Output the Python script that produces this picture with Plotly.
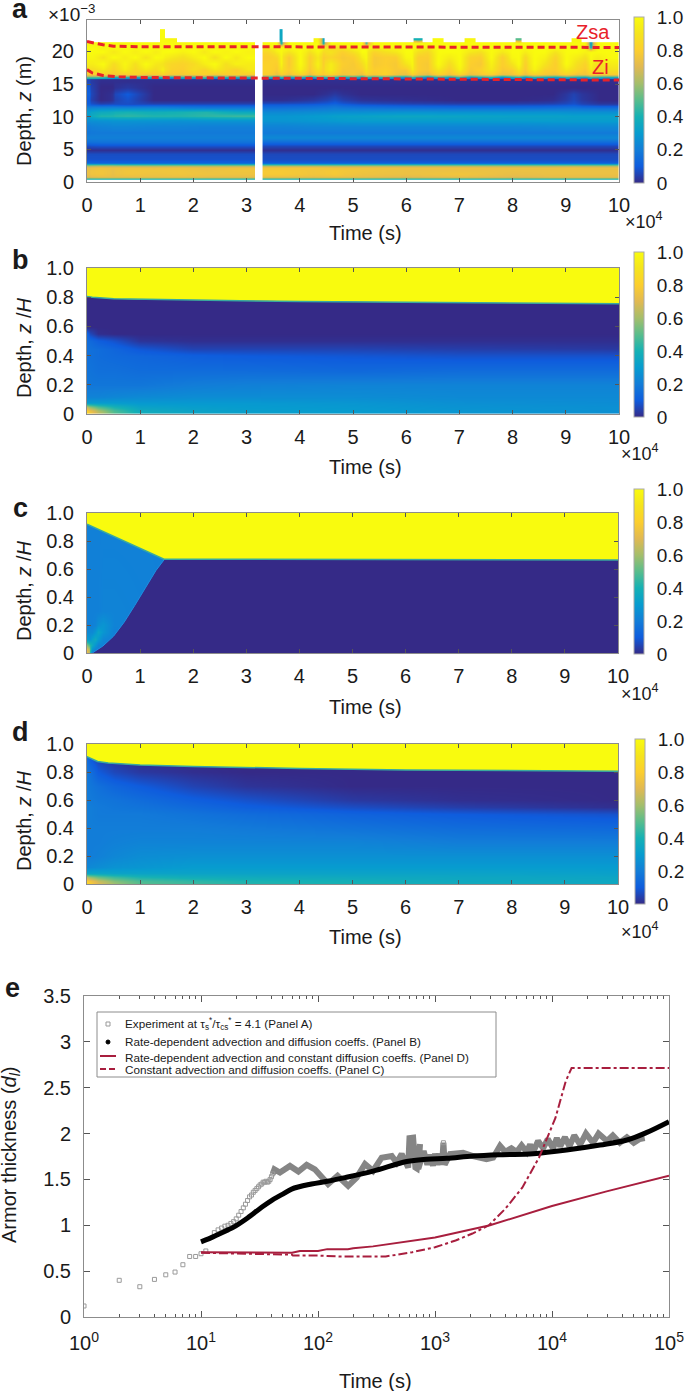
import plotly.graph_objects as go

W, H = 685, 1391
n = None

parula = [[0, 'rgb(53,42,135)'], [0.1, 'rgb(15,92,221)'], [0.2, 'rgb(18,125,216)'],
          [0.3, 'rgb(7,156,207)'], [0.4, 'rgb(21,177,180)'], [0.5, 'rgb(89,189,140)'],
          [0.6, 'rgb(165,190,107)'], [0.7, 'rgb(225,185,82)'], [0.8, 'rgb(252,206,46)'],
          [0.9, 'rgb(245,228,29)'], [1, 'rgb(249,251,14)']]

# panel a, lower layers (edges in time and depth)
a_low_depth = [0.35, 0.7, 1.0, 1.5, 2.0, 2.5, 2.8, 3.1, 4.0, 4.6, 5.2, 5.8, 6.5, 7.2, 8.0, 9.0, 9.8, 10.4, 11.0, 11.6,
               12.2, 13.0, 14.0, 15.0, 15.8]
a_low_t_left = [0, 0.08, 0.44, 0.52, 1, 1.5, 2, 2.5, 3.15]
a_low_left = [
    [.42, .42, .42, .42, .42, .42, .42, .42],
    [.70, .72, .72, .72, .73, .73, .72, .72],
    [.74, .76, .73, .76, .75, .76, .75, .75],
    [.74, .76, .73, .76, .76, .76, .74, .76],
    [.72, .74, .73, .74, .73, .74, .73, .74],
    [.50, .52, .52, .50, .50, .50, .50, .50],
    [.15, .14, .14, .14, .14, .14, .14, .14],
    [.08, .08, .08, .08, .08, .08, .08, .08],
    [.07, .07, .07, .07, .07, .07, .07, .07],
    [.01, .01, .01, .01, .01, .01, .01, .01],
    [.07, .08, .08, .08, .08, .08, .08, .08],
    [.16, .17, .17, .17, .17, .17, .17, .17],
    [.21, .21, .21, .21, .21, .21, .21, .21],
    [.18, .19, .19, .19, .19, .19, .19, .19],
    [.20, .22, .23, .23, .22, .22, .21, .21],
    [.26, .27, .28, .28, .28, .27, .28, .28],
    [.30, .42, .42, .44, .42, .42, .44, .46],
    [.30, .36, .38, .40, .38, .40, .42, .36],
    [.22, .24, .24, .24, .24, .22, .20, .20],
    [.12, .07, .08, .07, .07, .07, .07, .07],
    [.10, 0, .02, .08, 0, 0, 0, 0],
    [.12, 0, .02, .10, 0, 0, 0, 0],
    [.10, 0, 0, .03, 0, 0, 0, 0],
    [.06, .01, .01, .01, .01, .01, .01, .01],
]
a_low_t_right = [3.3, 4, 4.5, 4.8, 5.5, 6.5, 7.5, 8.5, 9, 9.3, 10]
a_low_right = [
    [.42, .42, .42, .42, .42, .42, .42, .42, .42, .42],
    [.73, .72, .73, .72, .70, .72, .70, .72, .72, .72],
    [.78, .76, .78, .75, .74, .76, .73, .74, .74, .74],
    [.78, .76, .78, .76, .74, .74, .74, .74, .74, .74],
    [.76, .76, .74, .74, .74, .74, .73, .73, .74, .73],
    [.50, .50, .50, .50, .50, .50, .50, .50, .50, .50],
    [.12, .12, .12, .12, .12, .12, .12, .12, .12, .12],
    [.07, .07, .07, .07, .07, .07, .07, .07, .07, .07],
    [.06, .06, .06, .06, .06, .06, .06, .06, .06, .06],
    [.01, .01, .01, .01, .01, .01, .01, .01, .01, .01],
    [.06, .06, .06, .06, .06, .06, .06, .06, .06, .06],
    [.15, .15, .15, .15, .15, .15, .15, .15, .15, .15],
    [.24, .24, .24, .24, .24, .24, .24, .24, .24, .24],
    [.19, .19, .19, .19, .19, .19, .19, .19, .19, .19],
    [.22, .23, .23, .23, .23, .23, .23, .24, .24, .24],
    [.28, .29, .30, .31, .31, .31, .31, .31, .31, .31],
    [.28, .30, .32, .33, .35, .34, .33, .33, .32, .32],
    [.24, .25, .26, .26, .27, .27, .27, .27, .26, .26],
    [.17, .18, .20, .18, .17, .16, .16, .17, .18, .16],
    [.10, .11, .14, .09, .07, .06, .06, .07, .09, .04],
    [.01, .03, .07, .02, .01, 0, 0, .01, .06, 0],
    [0, 0, .03, 0, 0, 0, 0, 0, .05, 0],
    [0, 0, 0, 0, 0, 0, 0, 0, 0, 0],
    [.01, .01, .01, .01, .01, .01, .01, .01, .01, .01],
]

# panel a, noisy sand layer at the top
a_top_depth = [15.7, 16.2, 16.8, 17.6, 18.6, 19.6, 20.4, 21.0, 21.6, 22.2, 23.4]
a_top_t_left = [0, .2, .4, .6, .8, 1, 1.2, 1.38, 1.46, 1.7, 1.9, 2.1, 2.3, 2.5, 2.7, 2.9, 3.15]
a_top_left = [
    [.40, .35, .25, .30, .20, .30, .25, .35, .20, .30, .25, .40, .20, .30, .25, .30],
    [.80, .82, .78, .80, .84, .78, .80, .82, .78, .78, .80, .82, .78, .80, .82, .80],
    [.86, .92, .82, .94, .84, .92, .86, .96, .82, .80, .88, .82, .92, .86, .80, .92],
    [.94, 1.0, .86, .98, .88, 1.0, .92, .90, .84, .82, .86, .94, 1.0, .88, .96, .94],
    [.98, .90, 1.0, .94, 1.0, .90, 1.0, .98, .92, .88, .94, 1.0, .88, 1.0, .92, 1.0],
    [1.0, 1.0, .92, 1.0, .94, 1.0, .94, 1.0, 1.0, .96, 1.0, .92, 1.0, .96, 1.0, .96],
    [1.0, .96, 1.0, .98, 1.0, .98, 1.0, .98, 1.0, 1.0, .98, 1.0, .96, 1.0, .98, 1.0],
    [.96, 1.0, 1.0, .98, 1.0, 1.0, .98, 1.0, 1.0, .98, 1.0, 1.0, 1.0, .98, 1.0, 1.0],
    [n, n, n, n, n, n, n, 1.0, .98, n, n, n, n, n, n, n],
    [n, n, n, n, n, n, n, 1.0, n, n, n, n, n, n, n, n],
]
a_top_t_right = [3.3, 3.5, 3.62, 3.68, 3.9, 4.1, 4.25, 4.4, 4.46, 4.7, 4.9, 5.1, 5.22, 5.28, 5.5, 5.7, 5.9, 6.08, 6.14,
                 6.3, 6.5, 6.7, 6.9, 7.1, 7.3, 7.5, 7.7, 7.9, 8.06, 8.16, 8.3, 8.5, 8.7, 8.9, 9.1, 9.3, 9.42, 9.5, 9.7,
                 10]
a_top_right = [
    [.30, .15, .35, .20, .30, .10, .30, .25, .35, .20, .30, .15, .35, .25, .30, .20, .15, .35, .25, .10,
     .30, .20, .35, .15, .25, .30, .10, .25, .30, .15, .30, .25, .20, .30, .25, .20, .35, .30, .25],
    [.80, .74, .82, .76, .84, .74, .82, .78, .84, .76, .78, .74, .84, .78, .82, .76, .74, .84, .76, .72,
     .82, .76, .84, .74, .78, .82, .74, .76, .82, .74, .82, .78, .76, .82, .76, .76, .82, .78, .80],
    [.82, .78, .92, .80, .96, .78, .90, .80, .94, .78, .78, .80, .92, .80, .82, .78, .78, .96, .80, .78,
     .92, .80, .96, .78, .82, .92, .78, .80, .92, .78, .96, .82, .80, .92, .84, .78, .94, .84, .88],
    [.82, .80, 1.0, .78, 1.0, .80, .96, .78, .94, .80, .78, .86, .96, .78, .80, .78, .90, 1.0, .80, .78,
     1.0, .86, 1.0, .80, .78, .96, .80, .90, 1.0, .80, 1.0, .90, .80, 1.0, .88, .82, .98, .88, .94],
    [.80, .84, 1.0, .78, 1.0, .80, .92, .78, .84, .78, .80, .94, 1.0, .78, .80, .80, .98, 1.0, .80, .80,
     1.0, .94, 1.0, .82, .80, 1.0, .80, .98, 1.0, .84, 1.0, .96, .82, 1.0, .94, .88, 1.0, .94, 1.0],
    [.84, .94, 1.0, .90, 1.0, .88, .98, .84, .90, .80, .88, 1.0, 1.0, .82, .88, .92, 1.0, 1.0, .88, .84,
     1.0, 1.0, 1.0, .92, .88, 1.0, .92, 1.0, 1.0, .94, 1.0, 1.0, .90, 1.0, 1.0, .96, 1.0, 1.0, 1.0],
    [.94, 1.0, 1.0, 1.0, 1.0, .98, 1.0, .98, .84, .92, 1.0, 1.0, 1.0, .96, 1.0, .98, 1.0, 1.0, .98, .94,
     1.0, 1.0, 1.0, .98, 1.0, 1.0, .98, 1.0, 1.0, 1.0, 1.0, 1.0, 1.0, 1.0, 1.0, 1.0, .30, .98, 1.0],
    [1.0, 1.0, .30, 1.0, 1.0, 1.0, 1.0, .30, 1.0, 1.0, 1.0, 1.0, .40, 1.0, 1.0, 1.0, 1.0, 1.0, 1.0, 1.0,
     1.0, 1.0, 1.0, 1.0, 1.0, 1.0, 1.0, 1.0, 1.0, 1.0, 1.0, 1.0, 1.0, 1.0, 1.0, 1.0, .25, 1.0, 1.0],
    [n, n, .35, n, n, n, .98, .30, n, n, n, n, n, n, n, n, n, n, .40, n,
     1.0, n, n, .98, n, n, n, n, .50, n, n, n, n, n, .98, n, n, n, n],
    [n, n, .35, n, n, n, n, n, n, n, n, n, n, n, n, n, n, n, n, n,
     n, n, n, n, n, n, n, n, n, n, n, n, n, n, n, n, n, n, n],
]
zsa_t = [0, 0.1, 0.3, 0.5, 1, 3, 5, 7.5, 10]
zsa_depth = [21.5, 21.3, 21.0, 20.8, 20.7, 20.7, 20.65, 20.6, 20.6]
zi_t = [0, 0.1, 0.3, 0.6, 1, 3, 6, 8, 10]
zi_depth = [17.2, 16.7, 16.3, 16.1, 16.0, 15.9, 15.8, 15.7, 15.6]

# panel b
b_t = [0, 0.05, 0.2, 0.5, 1, 2, 3, 5, 7, 10]
b_z = [0, .02, .05, .08, .12, .2, .3, .4, .45, .5, .55, .6, .8]
b_conc = [
    [.85, .78, .66, .50, .38, .34, .32, .30, .28, .26],
    [.80, .74, .62, .48, .37, .33, .31, .30, .28, .26],
    [.62, .56, .48, .40, .33, .31, .30, .29, .27, .26],
    [.30, .30, .30, .30, .29, .29, .29, .28, .26, .25],
    [.22, .22, .22, .23, .24, .25, .25, .25, .24, .24],
    [.18, .18, .18, .18, .18, .20, .21, .22, .22, .22],
    [.17, .17, .16, .16, .15, .15, .15, .14, .15, .15],
    [.16, .16, .15, .14, .13, .11, .10, .09, .08, .08],
    [.16, .16, .15, .13, .09, .05, .05, .05, .04, .03],
    [.15, .14, .11, .08, .02, .01, .01, .01, .01, .01],
    [.13, .06, .01, 0, 0, 0, 0, 0, 0, 0],
    [0, 0, 0, 0, 0, 0, 0, 0, 0, 0],
    [0, 0, 0, 0, 0, 0, 0, 0, 0, 0],
]
b_iface_t = [0, 0.1, 0.5, 1, 2, 4, 6, 8, 10]
b_iface = [.805, .80, .79, .785, .78, .77, .765, .76, .755]

# panel c
c_t = [0, .03, .06, .1, .15, .2, .3, .5, 1.5, 10]
c_z = [0, .03, .06, .1, .15, .2, .3, 1]
c_conc = [
    [.72, .65, .40, .22, .22, .22, .22, .21, .21, .21],
    [.70, .62, .45, .28, .22, .22, .22, .21, .21, .21],
    [.55, .48, .42, .36, .28, .22, .22, .21, .21, .21],
    [.30, .28, .28, .32, .36, .30, .23, .21, .21, .21],
    [.24, .24, .24, .24, .28, .34, .28, .21, .21, .21],
    [.21, .21, .21, .21, .22, .26, .28, .22, .21, .21],
    [.21, .21, .21, .21, .21, .21, .22, .22, .21, .21],
    [.21, .21, .21, .21, .21, .21, .21, .21, .21, .21],
]
c_front_t = [0.1, 0.3, 0.5, 0.7, 0.9, 1.1, 1.3, 1.45, 10]
c_front = [0, .05, .12, .22, .34, .47, .59, .665, .665]
c_iface_t = [0, 1.45, 10]
c_iface = [.92, .67, .665]

# panel d
d_t = [0, .05, .2, .5, 1, 2, 3, 5, 7, 10]
d_z = [0, .02, .05, .08, .12, .2, .3, .4, .5, .55, .6, .7, .8, .9]
d_conc = [
    [.85, .80, .70, .60, .50, .46, .42, .40, .37, .35],
    [.80, .76, .66, .56, .48, .44, .41, .39, .36, .35],
    [.62, .58, .52, .46, .41, .38, .37, .36, .35, .34],
    [.34, .34, .34, .33, .33, .33, .33, .33, .33, .32],
    [.23, .24, .25, .27, .28, .30, .30, .30, .30, .30],
    [.20, .20, .21, .23, .25, .26, .26, .26, .26, .26],
    [.20, .20, .20, .21, .22, .22, .22, .22, .20, .20],
    [.20, .20, .20, .20, .20, .20, .19, .17, .15, .14],
    [.20, .20, .19, .19, .19, .17, .15, .12, .10, .08],
    [.20, .20, .19, .18, .17, .14, .11, .07, .04, .01],
    [.20, .19, .18, .17, .15, .11, .08, .03, .01, 0],
    [.19, .18, .16, .13, .10, .05, .02, 0, 0, 0],
    [.18, .16, .10, .06, .03, .01, 0, 0, 0, 0],
    [.15, .10, .05, .02, 0, 0, 0, 0, 0, 0],
]
d_iface_t = [0, .05, .1, .2, .4, .7, 1, 2, 3, 4, 6, 8, 10]
d_iface = [.91, .90, .89, .875, .865, .855, .85, .84, .83, .825, .815, .81, .805]

# panel e
exp_t = [1, 2, 3, 4, 5, 6, 7, 8, 9, 10, 11, 13, 14, 15, 16, 17, 18, 19, 20, 21, 22, 23, 24, 25, 26, 27, 28, 29, 30,
         31, 32, 33, 34, 35, 36, 37, 38, 39, 40, 41, 1180]
exp_y = [.12, .40, .33, .41, .46, .49, .57, .66, .66, .69, .72, .92, .95, .97, .99, 1.0, 1.02, 1.04, 1.07, 1.11, 1.15,
         1.19, 1.23, 1.27, 1.31, 1.33, 1.36, 1.38, 1.40, 1.42, 1.44, 1.45, 1.47, 1.47, 1.48, 1.47, 1.48, 1.50, 1.53,
         1.56, 1.90]
band_t = [41, 42.4, 47.3, 52, 57.6, 68, 80, 94, 111, 122, 147, 170, 181, 214, 252, 295, 350, 427, 470, 519, 590, 605,
          620, 650, 680, 700, 745, 720, 800, 860, 900, 960, 1000, 1050, 1100, 1150, 1180, 1210, 1343, 1738, 2113, 2755,
          3140, 3597, 4000, 4500, 5000, 5500, 6080, 6500, 6900, 7600, 8400, 9200, 10200, 11000, 11750, 12900, 14100,
          15500, 17400, 19500, 22400, 25000, 29500, 33100, 38000, 43700, 50000, 56200, 62000]
band_y = [1.56, 1.61, 1.575, 1.61, 1.647, 1.586, 1.658, 1.61, 1.50, 1.45, 1.54, 1.466, 1.43, 1.52, 1.668, 1.593, 1.737,
          1.755, 1.683, 1.777, 1.63, 1.95, 1.955, 1.955, 1.63, 1.62, 1.885, 1.615, 1.81, 1.66, 1.77, 1.65, 1.78, 1.66,
          1.78, 1.66, 1.90, 1.66, 1.777, 1.79, 1.755, 1.72, 1.737, 1.867, 1.80, 1.84, 1.80, 1.87, 1.80, 1.88, 1.80,
          1.92, 1.84, 1.94, 1.84, 1.95, 1.86, 1.96, 1.86, 1.98, 1.88, 2.00, 1.90, 2.00, 1.92, 1.98, 1.90, 1.96, 1.90,
          1.94, 1.95]
rate_t = [10, 12, 14, 17, 19, 25, 33, 40, 50, 59.5, 88, 120, 170, 295, 572, 850, 1260, 2113, 3800, 6900, 13300, 25700,
          43700, 64000, 100000]
rate_y = [.82, .86, .90, .95, .98, 1.08, 1.197, 1.27, 1.34, 1.395, 1.45, 1.48, 1.52, 1.59, 1.695, 1.72, 1.73, 1.755,
          1.77, 1.78, 1.82, 1.875, 1.93, 2.01, 2.13]
diff_t = [10, 20, 50, 60, 70, 100, 120, 180, 200, 295, 1000, 2950, 10000, 29300, 100000]
diff_y = [.705, .70, .70, .70, .72, .72, .74, .74, .75, .77, .867, 1.0, 1.21, 1.37, 1.54]
const_t = [10, 30, 60, 61, 100, 151, 290, 379, 640, 1000, 1500, 2090, 2890, 3990, 5570, 7740, 10700, 13100, 14700,
           100000]
const_y = [.70, .69, .68, .67, .67, .66, .66, .66, .707, .76, .834, .91, 1.0, 1.18, 1.41, 1.737, 2.17, 2.57, 2.715,
           2.715]

font = 'Liberation Sans'
grey = '#8c8c8c'
crimson = '#a81e3e'
yellow = 'rgb(249,251,14)'
teal = '#39a9a0'
ink = '#1a1a1a'

legend_names = ['Experiment at τ<sub>s</sub><sup>*</sup>/τ<sub>cs</sub><sup>*</sup> = 4.1 (Panel A)',
                'Rate-dependent advection and diffusion coeffs. (Panel B)',
                'Rate-dependent advection and constant diffusion coeffs. (Panel D)',
                'Constant advection and diffusion coeffs. (Panel C)']


def dom_x(left, right):
    return [left / W, right / W]


def dom_y(top, bottom):
    return [1 - bottom / H, 1 - top / H]


def axis_style(**kw):
    base = dict(showline=True, mirror='ticks', linecolor=grey, linewidth=1, ticks='inside', ticklen=4,
                tickcolor='#555555', showgrid=False, zeroline=False, tickfont=dict(family=font, size=20, color=ink))
    base.update(kw)
    return base


fig = go.Figure()
panels = [
    # name, plot top, plot bottom, colorbar top, colorbar bottom, colorbar left
    ('', 20, 182, 17, 183, 633.5),
    ('2', 268, 414, 252, 417, 633.5),
    ('3', 513, 653, 489, 654, 634),
    ('4', 744, 884, 739, 904, 635),
]
layout = dict(width=W, height=H, margin=dict(l=0, r=0, t=0, b=0, autoexpand=False), paper_bgcolor='white',
              plot_bgcolor='white', font=dict(family=font, color=ink), showlegend=False)
for i, (name, top, bottom, cb_top, cb_bottom, cb_left) in enumerate(panels):
    layout['xaxis' + name] = axis_style(domain=dom_x(87, 619 if i < 2 else 618), range=[0, 10], tickmode='array',
                                        tickvals=list(range(11)), anchor='y' + name, ticklabelstandoff=5)
    layout['yaxis' + name] = axis_style(domain=dom_y(top, bottom), anchor='x' + name, tickmode='array',
                                        tickvals=[0, .2, .4, .6, .8, 1], ticktext=['0', '0.2', '0.4', '0.6', '0.8', '1.0'],
                                        range=[0, 1], ticklabelstandoff=8)
    layout['coloraxis' + (name or '')] = dict(
        cmin=0, cmax=1, colorscale=parula,
        colorbar=dict(x=cb_left / W, xanchor='left', y=1 - (cb_top + cb_bottom) / 2 / H, yanchor='middle',
                      len=(cb_bottom - cb_top) / H, lenmode='fraction', thickness=10, thicknessmode='pixels',
                      xpad=0, ypad=0, outlinecolor='#aaaaaa', outlinewidth=1, ticks='outside', ticklen=9,
                      tickcolor='rgba(0,0,0,0)',
                      tickmode='array', tickvals=[0, .2, .4, .6, .8, 1], ticktext=['0', '0.2', '0.4', '0.6', '0.8', '1.0'],
                      tickfont=dict(family=font, size=19, color=ink)))
layout['yaxis'].update(range=[0, 24.8], tickvals=[0, 5, 10, 15, 20], ticktext=['0', '5', '10', '15', '20'])

for t, z in [(a_low_t_left, a_low_left), (a_low_t_right, a_low_right)]:
    fig.add_trace(go.Heatmap(x=t, y=a_low_depth, z=z, coloraxis='coloraxis', zsmooth='best', xaxis='x', yaxis='y'))
for t, z in [(a_top_t_left, a_top_left), (a_top_t_right, a_top_right)]:
    fig.add_trace(go.Heatmap(x=t, y=a_top_depth, z=z, coloraxis='coloraxis', zsmooth='best', xaxis='x', yaxis='y'))
for t, depth in [(zsa_t, zsa_depth), (zi_t, zi_depth)]:
    fig.add_trace(go.Scatter(x=t, y=depth, mode='lines', xaxis='x', yaxis='y',
                             line=dict(color='#e8222a', width=3, dash='7px,4px')))

fig.add_trace(go.Heatmap(x=b_t, y=b_z, z=b_conc, coloraxis='coloraxis2', zsmooth='best', xaxis='x2', yaxis='y2'))
fig.add_trace(go.Heatmap(x=c_t, y=c_z, z=c_conc, coloraxis='coloraxis3', zsmooth='best', xaxis='x3', yaxis='y3'))
fig.add_trace(go.Scatter(x=c_front_t + [10], y=c_front + [0], mode='lines', fill='toself', fillcolor='rgb(53,42,135)',
                         line=dict(color='rgba(0,0,0,0)', width=0), xaxis='x3', yaxis='y3'))
fig.add_trace(go.Scatter(x=c_front_t[:-1], y=c_front[:-1], mode='lines', line=dict(color='#1f8ee0', width=1),
                         xaxis='x3', yaxis='y3'))
fig.add_trace(go.Heatmap(x=d_t, y=d_z, z=d_conc, coloraxis='coloraxis4', zsmooth='best', xaxis='x4', yaxis='y4'))

# armor layer on top of the fields
for ax, t, iface in [('2', b_iface_t, b_iface), ('3', c_iface_t, c_iface), ('4', d_iface_t, d_iface)]:
    fig.add_trace(go.Scatter(x=[0] + t + [10], y=[1] + iface + [1], mode='lines', fill='toself', fillcolor=yellow,
                             line=dict(color='rgba(0,0,0,0)', width=0), xaxis='x' + ax, yaxis='y' + ax))
    fig.add_trace(go.Scatter(x=t, y=iface, mode='lines', line=dict(color=teal, width=1.5), xaxis='x' + ax,
                             yaxis='y' + ax))

# panel e
layout['xaxis5'] = axis_style(type='log', domain=dom_x(84, 669), range=[0, 5], anchor='y5', tickmode='array',
                              tickvals=[1, 10, 100, 1000, 10000, 100000],
                              ticktext=['10<sup>0</sup>', '10<sup>1</sup>', '10<sup>2</sup>', '10<sup>3</sup>',
                                        '10<sup>4</sup>', '10<sup>5</sup>'],
                              ticklen=6, minor=dict(ticks='inside', ticklen=3, dtick='D1', tickcolor='#555555'),
                              ticklabelstandoff=8)
layout['yaxis5'] = axis_style(domain=dom_y(996, 1317), range=[0, 3.5], anchor='x5', tickmode='array', ticklen=6,
                              tickvals=[0, .5, 1, 1.5, 2, 2.5, 3, 3.5],
                              ticktext=['0', '0.5', '1', '1.5', '2', '2.5', '3', '3.5'], ticklabelstandoff=8)
fig.add_trace(go.Scatter(x=band_t, y=band_y, mode='lines', line=dict(color='#858585', width=6), xaxis='x5', yaxis='y5'))
fig.add_trace(go.Scatter(x=exp_t, y=exp_y, mode='markers', xaxis='x5', yaxis='y5', name=legend_names[0],
                         marker=dict(symbol='square-open', size=4, color='#9a9a9a', line=dict(width=1))))
fig.add_trace(go.Scatter(x=rate_t, y=rate_y, mode='lines', line=dict(color='black', width=5, shape='spline'),
                         xaxis='x5', yaxis='y5', name=legend_names[1]))
fig.add_trace(go.Scatter(x=diff_t, y=diff_y, mode='lines', line=dict(color=crimson, width=2), xaxis='x5', yaxis='y5',
                         name=legend_names[2]))
fig.add_trace(go.Scatter(x=const_t, y=const_y, mode='lines', line=dict(color=crimson, width=2, dash='dashdot'),
                         xaxis='x5', yaxis='y5', name=legend_names[3]))


def label(text, x, y, size=20, color=ink, angle=0, anchor='center'):
    return dict(text=text, x=x / W, y=1 - y / H, xref='paper', yref='paper', showarrow=False, xanchor=anchor,
                yanchor='middle', textangle=angle, font=dict(family=font, size=size, color=color))


def box(kind, x0, y0, x1, y1, **kw):
    return dict(type=kind, xref='paper', yref='paper', x0=x0 / W, x1=x1 / W, y0=1 - y0 / H, y1=1 - y1 / H, **kw)


annotations = [
    label('<b>a</b>', 20, 9, 27), label('<b>b</b>', 20, 260, 27), label('<b>c</b>', 20, 508, 27),
    label('<b>d</b>', 20, 732, 27), label('<b>e</b>', 12, 988, 27),
    label('×10<sup>−3</sup>', 71, 13, 19), label('×10<sup>4</sup>', 644, 220, 18), label('×10<sup>4</sup>', 640, 452, 18),
    label('×10<sup>4</sup>', 640, 692, 18), label('×10<sup>4</sup>', 640, 930, 18),
    label('Zsa', 593, 32, 20, '#e8222a'), label('Zi', 600, 67, 20, '#e8222a'),
    label('Time (s)', 365, 233), label('Time (s)', 365, 467), label('Time (s)', 365, 707), label('Time (s)', 365, 937),
    label('Time (s)', 375, 1381),
    label('Depth, <i>z</i> (m)', 24, 111, angle=-90), label('Depth, <i>z</i> /<i>H</i>', 24, 348, angle=-90),
    label('Depth, <i>z</i> /<i>H</i>', 24, 591, angle=-90), label('Depth, <i>z</i> /<i>H</i>', 24, 821, angle=-90),
    label('Armor thickness (<i>d<sub>l</sub></i>)', 10, 1155, angle=-90),
]
# legend is laid out by hand, its rows are not evenly spaced
for name, y in zip(legend_names, [1024, 1041.5, 1057, 1069]):
    annotations.append(label(name, 123, y, 11.7, anchor='left'))
layout['annotations'] = annotations
layout['shapes'] = [
    box('rect', 97, 1012, 496, 1077, line=dict(color=grey, width=1), fillcolor='white', layer='above'),
    box('rect', 106, 1022, 110, 1026, line=dict(color='#9a9a9a', width=1), layer='above'),
    box('circle', 106, 1040, 110, 1044, line=dict(color='black', width=1), fillcolor='black', layer='above'),
    box('line', 100, 1056, 116, 1056, line=dict(color=crimson, width=2), layer='above'),
    box('line', 100, 1069, 116, 1069, line=dict(color=crimson, width=2, dash='6px,3px'), layer='above'),
]
fig.update_layout(**layout)
fig.write_html("out.html", post_script="document.body.style.margin='0';", config=dict(displayModeBar=False))
